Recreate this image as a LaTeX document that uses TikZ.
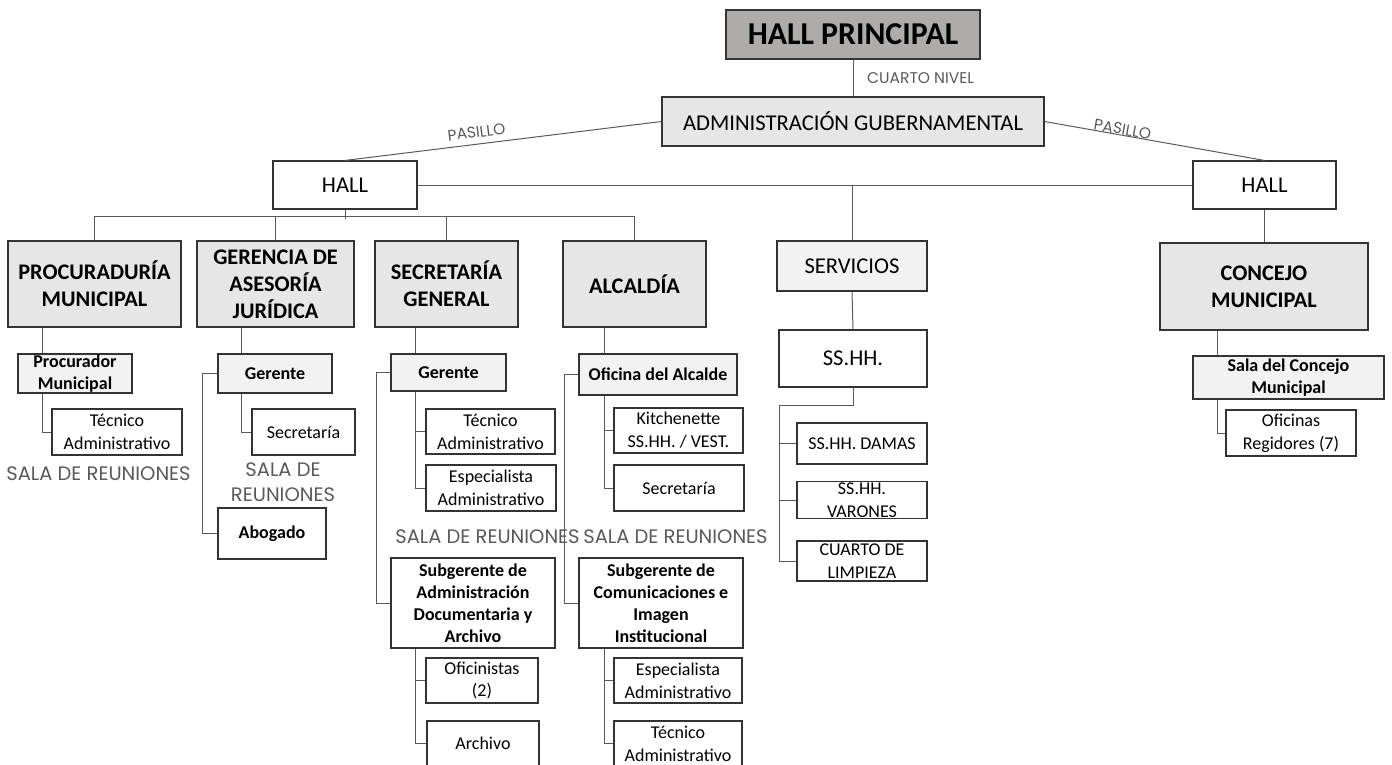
\documentclass[tikz,border=0pt]{standalone}
\usepackage{fontspec}
\setmainfont{Carlito}
\newfontfamily\finafont{Poppins}
\usepackage{tikz}
\definecolor{grisHall}{HTML}{AEABAB}
\definecolor{grisDepto}{HTML}{E7E6E6}
\definecolor{grisClaro}{HTML}{F2F2F2}
\tikzset{
  caja/.style={draw=black!80, line width=1.1pt, inner sep=0pt, align=center},
  titulo/.style={caja, fill=grisDepto, font=\bfseries\fontsize{22.3}{27}\selectfont},
  jefe/.style={caja, fill=grisClaro, font=\bfseries\fontsize{18}{22}\selectfont},
  puesto/.style={caja, fill=white, font=\fontsize{18}{22.8}\selectfont},
  ambiente/.style={caja, fill=white, font=\fontsize{22.6}{27}\selectfont},
  nota/.style={font=\finafont\fontsize{19.5}{24.5}\selectfont, text=black!65, align=center, inner sep=0pt},
  rotulo/.style={font=\finafont\fontsize{15.5}{18}\selectfont, text=black!65},
  linea/.style={draw=black!65, line width=1pt}
}

\begin{document}
\begin{tikzpicture}[x=1pt, y=-1pt]
\useasboundingbox (0,0) rectangle (1392,765);

% nivel superior
\node[caja, fill=grisHall, font=\bfseries\fontsize{31.8}{36}\selectfont, minimum width=254, minimum height=49] (hp) at (853,34.5) {HALL PRINCIPAL};
\node[ambiente, fill=grisDepto, minimum width=382, minimum height=49] (adm) at (853,121.5) {ADMINISTRACIÓN GUBERNAMENTAL};
\node[ambiente, minimum width=144, minimum height=48] (hallI) at (345,185) {HALL};
\node[ambiente, minimum width=143, minimum height=48] (hallD) at (1264.5,185) {HALL};
\node[rotulo, anchor=west, inner sep=0pt] (nivel) at (867,78) {CUARTO NIVEL};

% departamentos
\node[titulo, minimum width=173, minimum height=86] (procu) at (94.5,284) {PROCURADURÍA\\MUNICIPAL};
\node[titulo, minimum width=157, minimum height=86] (gerj) at (275.5,284) {GERENCIA DE\\ASESORÍA\\JURÍDICA};
\node[titulo, minimum width=143, minimum height=86] (secg) at (446.5,284) {SECRETARÍA\\GENERAL};
\node[titulo, minimum width=143, minimum height=86] (alc) at (634.5,284) {ALCALDÍA};
\node[ambiente, fill=grisClaro, minimum width=150, minimum height=50] (serv) at (852,266) {SERVICIOS};
\node[titulo, minimum width=208, minimum height=87] (conc) at (1264,286.5) {CONCEJO\\MUNICIPAL};

% procuraduria
\node[jefe, minimum width=114, minimum height=39] (procm) at (75,373.5) {Procurador\\Municipal};
\node[puesto, minimum width=130, minimum height=46] (tec1) at (117,432) {Técnico\\Administrativo};
\node[nota] (sala1) at (98.5,474) {SALA DE REUNIONES};

% asesoria juridica
\node[jefe, minimum width=114, minimum height=39] (gere1) at (275,373.5) {Gerente};
\node[puesto, minimum width=103, minimum height=46] (secre1) at (303.5,432) {Secretaría};
\node[nota] (sala2) at (283,482) {SALA DE\\REUNIONES};
\node[jefe, fill=white, minimum width=108, minimum height=51] (abog) at (272,533.5) {Abogado};

% secretaria general
\node[jefe, minimum width=115, minimum height=37] (gere2) at (448.5,372.5) {Gerente};
\node[puesto, minimum width=129, minimum height=45] (tec2) at (490.5,431.5) {Técnico\\Administrativo};
\node[puesto, minimum width=130, minimum height=46] (esp2) at (491,488) {Especialista\\Administrativo};
\node[nota] (sala3) at (487.5,537) {SALA DE REUNIONES};
\node[jefe, fill=white, minimum width=164, minimum height=90] (subadm) at (473,603) {Subgerente de\\Administración\\Documentaria y\\Archivo};
\node[puesto, minimum width=112, minimum height=45] (ofic) at (482,680.5) {Oficinistas\\(2)};
\node[puesto, minimum width=112, minimum height=45] (arch) at (483,743.5) {Archivo};

% alcaldia
\node[jefe, minimum width=158, minimum height=41] (ofalc) at (658,374.5) {Oficina del Alcalde};
\node[puesto, minimum width=129, minimum height=45] (kitch) at (678.5,430.5) {Kitchenette\\SS.HH. / VEST.};
\node[puesto, minimum width=130, minimum height=46] (secre2) at (679,488) {Secretaría};
\node[nota] (sala4) at (675.5,537) {SALA DE REUNIONES};
\node[jefe, fill=white, minimum width=164, minimum height=90] (subcom) at (661,603) {Subgerente de\\Comunicaciones e\\Imagen\\Institucional};
\node[puesto, minimum width=128, minimum height=45] (esp3) at (678,680.5) {Especialista\\Administrativo};
\node[puesto, minimum width=128, minimum height=45] (tec3) at (678,743.5) {Técnico\\Administrativo};

% servicios
\node[ambiente, minimum width=148, minimum height=57] (sshh) at (853,358.5) {SS.HH.};
\node[puesto, minimum width=130, minimum height=41] (damas) at (862,443.5) {SS.HH. DAMAS};
\node[puesto, minimum width=130, minimum height=37] (varones) at (862,500) {SS.HH.\\VARONES};
\node[puesto, minimum width=130, minimum height=40] (limp) at (862,561) {CUARTO DE\\LIMPIEZA};

% concejo
\node[jefe, minimum width=191, minimum height=43] (salac) at (1288.5,377.5) {Sala del Concejo\\Municipal};
\node[puesto, minimum width=130, minimum height=46] (ofreg) at (1291,433) {Oficinas\\Regidores (7)};

% lineas verticales de cada rama
\coordinate (t1) at (42,0);
\coordinate (t2) at (241,0);
\coordinate (l2) at (202,0);
\coordinate (t3) at (415,0);
\coordinate (l3) at (376,0);
\coordinate (t4) at (604,0);
\coordinate (l4) at (564,0);
\coordinate (tS) at (779,0);
\coordinate (t5) at (1217,0);

\draw[linea] (hp.south) -- (adm.north);
\draw[linea] (hallI.north) -- node[rotulo, sloped, above, pos=0.42, inner sep=6pt] {PASILLO} (adm.west);
\draw[linea] (adm.east) -- node[rotulo, sloped, above, pos=0.35, inner sep=0pt] {PASILLO} (hallD.north);
\draw[linea] (hallI.east) -- (hallD.west);
\draw[linea] (serv.north) -- (serv.north |- hallI.east);
\draw[linea] (hallD.south) -- (hallD.south |- conc.north);

\draw[linea] (hallI.south) -- ++(0,9);
\draw[linea] (procu.north) -- ++(0,-23.5) -| (alc.north);
\draw[linea] (gerj.north) -- ++(0,-23.5);
\draw[linea] (secg.north) -- ++(0,-23.5);

\draw[linea] (procu.south -| t1) -- (procm.north -| t1);
\draw[linea] (procm.south -| t1) |- (tec1.west);

\draw[linea] (gerj.south -| t2) -- (gere1.north -| t2);
\draw[linea] (gere1.south -| t2) |- (secre1.west);
\draw[linea] (gere1.west) -- (gere1.west -| l2) |- (abog.west);

\draw[linea] (secg.south -| t3) -- (gere2.north -| t3);
\draw[linea] (gere2.south -| t3) |- (esp2.west);
\draw[linea] (tec2.west -| t3) -- (tec2.west);
\draw[linea] (gere2.west) -- (gere2.west -| l3) |- (subadm.west);
\draw[linea] (subadm.south -| t3) |- (arch.west);
\draw[linea] (ofic.west -| t3) -- (ofic.west);

\draw[linea] (alc.south -| t4) -- (ofalc.north -| t4);
\draw[linea] (ofalc.south -| t4) |- (secre2.west);
\draw[linea] (kitch.west -| t4) -- (kitch.west);
\draw[linea] (ofalc.west) -- (ofalc.west -| l4) |- (subcom.west);
\draw[linea] (subcom.south -| t4) |- (tec3.west);
\draw[linea] (esp3.west -| t4) -- (esp3.west);

\draw[linea] (serv.south) -- (sshh.north);
\draw[linea] (sshh.south) -- ++(0,18) -| (tS |- limp.west) -- (limp.west);
\draw[linea] (tS |- damas.west) -- (damas.west);
\draw[linea] (tS |- varones.west) -- (varones.west);

\draw[linea] (conc.south -| t5) -- (salac.north -| t5);
\draw[linea] (salac.south -| t5) |- (ofreg.west);
\end{tikzpicture}
\end{document}
